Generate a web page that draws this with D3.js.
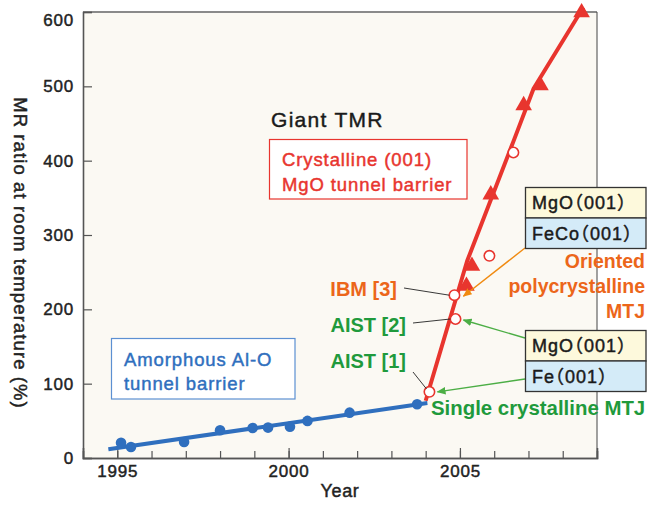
<!DOCTYPE html>
<html>
<head>
<meta charset="utf-8">
<script src="https://cdn.jsdelivr.net/npm/d3@7/dist/d3.min.js"></script>
<style>
  html, body { margin: 0; padding: 0; background: #fff; }
  svg { display: block; font-family: "Liberation Sans", Arial, "Noto Sans CJK JP", sans-serif; }
  .med { stroke-width: 0.45px; paint-order: stroke; }
  .layer { font-feature-settings: "halt" 1; }
</style>
</head>
<body>
<svg id="chart" width="656" height="505"></svg>
<script>
// ---------- data ----------
const yTickValues = [0, 100, 200, 300, 400, 500, 600];
const xMajorTicks = [1995, 2000, 2005];
const xMinorTicks = [1995, 1996, 1997, 1998, 1999, 2000, 2001, 2002, 2003, 2004, 2005, 2006, 2007, 2008];

// Amorphous Al-O barrier (blue filled circles)
const aloYears  = [1995.11, 1995.4, 1996.95, 1998.0, 1998.95, 1999.4, 2000.04, 2000.55, 2001.78, 2003.75];
const aloValues = [20.6, 14.8, 21.6, 37.3, 40.4, 40.9, 42.2, 49.9, 61.0, 72.3];
// Al-O trend line
const aloTrendYears  = [1994.74, 2004.05];
const aloTrendValues = [11.7, 74];

// MgO trend line (red)
const mgoTrendYears  = [2004.0, 2005.21, 2006.57, 2007.15, 2008.6];
const mgoTrendValues = [77, 265, 427, 497, 606];
// MgO single crystalline / oriented (open circles)
const openYears  = [2004.11, 2004.87, 2004.84, 2005.86, 2006.56];
const openValues = [89, 187, 219, 272, 411];
// MgO (filled triangles)
const triYears  = [2005.19, 2005.35, 2005.9, 2006.86, 2007.35, 2008.55];
const triValues = [234, 261, 357, 477, 504, 602];

// layer stacks
const stackPoly   = ["MgO（001）", "FeCo（001）"];
const stackSingle = ["MgO（001）", "Fe（001）"];

// ---------- layout ----------
const W = 656, H = 505;
const M = {left: 83, top: 12, right: 59, bottom: 47};
const pw = W - M.left - M.right, ph = H - M.top - M.bottom;

const RED = "#e8352e", BLUE = "#2f6fbe", GREEN = "#1f9a3c", GREEN_L = "#4cae45",
      ORANGE = "#ec661a", ORANGE_L = "#f08a10", AX = "#555", INK = "#222";

const svg = d3.select("#chart");
const defs = svg.append("defs");
function marker(id, color) {
  defs.append("marker").attr("id", id)
    .attr("viewBox", "0 0 10 10").attr("refX", 9).attr("refY", 5)
    .attr("markerWidth", 9).attr("markerHeight", 9).attr("markerUnits", "userSpaceOnUse")
    .attr("orient", "auto")
    .append("path").attr("d", "M0,0.8L10,5L0,9.2Z").attr("fill", color);
}
marker("arrG", GREEN_L);
marker("arrO", ORANGE_L);

const x = d3.scaleLinear().domain([1994, 2009]).range([M.left, M.left + pw]);
const y = d3.scaleLinear().domain([0, 600]).range([M.top + ph, M.top]);

// plot background
svg.append("rect").attr("x", M.left).attr("y", M.top).attr("width", pw).attr("height", ph)
  .attr("fill", "#fbf9f3");

// frame top & right
svg.append("line").attr("x1", M.left).attr("x2", M.left + pw).attr("y1", M.top).attr("y2", M.top)
  .attr("stroke", "#8a8a8a").attr("stroke-width", 2);
svg.append("line").attr("x1", M.left + pw).attr("x2", M.left + pw).attr("y1", M.top).attr("y2", M.top + ph)
  .attr("stroke", "#444").attr("stroke-width", 1);

// axes
const tickFont = g => g.selectAll("text")
  .attr("font-size", 17).attr("fill", INK).attr("stroke", INK).attr("class", "med")
  .attr("letter-spacing", "0.8px")
  .attr("font-family", "'Liberation Sans', Arial, sans-serif");

const xMinor = svg.append("g").attr("transform", `translate(0,${M.top + ph})`)
  .call(d3.axisBottom(x).tickValues(xMinorTicks).tickSize(-7).tickFormat(""));
const xMajor = svg.append("g").attr("transform", `translate(0,${M.top + ph})`)
  .call(d3.axisBottom(x).tickValues(xMajorTicks).tickSize(-10).tickPadding(7).tickFormat(d3.format("d")));
[xMinor, xMajor].forEach(g => {
  g.select(".domain").attr("stroke", AX).attr("stroke-width", 1.6);
  g.selectAll(".tick line").attr("stroke", AX).attr("stroke-width", 1.2);
});
xMajor.call(tickFont);

const yAx = svg.append("g").attr("transform", `translate(${M.left},0)`)
  .call(d3.axisLeft(y).tickValues(yTickValues).tickSize(-9).tickPadding(9));
yAx.select(".domain").attr("stroke", AX).attr("stroke-width", 1.6);
yAx.selectAll(".tick line").attr("stroke", AX).attr("stroke-width", 1.2);
yAx.call(tickFont);
yAx.selectAll(".tick text").filter(d => d === 600).attr("dy", "0.8em");

// axis titles
svg.append("text").attr("x", M.left + pw / 2).attr("y", 497).attr("text-anchor", "middle")
  .attr("class", "med").attr("stroke", INK)
  .attr("font-size", 18).attr("letter-spacing", "0.6px").attr("fill", INK).text("Year");
svg.append("text").attr("transform", `translate(14,${253}) rotate(90)`).attr("text-anchor", "middle")
  .attr("class", "med").attr("stroke", INK)
  .attr("font-size", 18.5).attr("letter-spacing", "1.1px").attr("fill", INK)
  .text("MR ratio at room temperature (%)");

// trend lines
const line = d3.line().x(d => x(d[0])).y(d => y(d[1]));
svg.append("path").datum(aloTrendYears.map((d, i) => [d, aloTrendValues[i]]))
  .attr("d", line).attr("fill", "none").attr("stroke", BLUE).attr("stroke-width", 4);
svg.append("path").datum(mgoTrendYears.map((d, i) => [d, mgoTrendValues[i]]))
  .attr("d", line).attr("fill", "none").attr("stroke", RED).attr("stroke-width", 4)
  .attr("stroke-linejoin", "round");

// points
svg.append("g").selectAll("circle").data(aloYears.map((d, i) => [d, aloValues[i]])).join("circle")
  .attr("cx", d => x(d[0])).attr("cy", d => y(d[1])).attr("r", 5.3).attr("fill", BLUE);
svg.append("g").selectAll("path").data(triYears.map((d, i) => [d, triValues[i]])).join("path")
  .attr("transform", d => `translate(${x(d[0])},${y(d[1]) + 2})`)
  .attr("d", d3.symbol(d3.symbolTriangle, 120)).attr("fill", RED);
svg.append("g").selectAll("circle").data(openYears.map((d, i) => [d, openValues[i]])).join("circle")
  .attr("cx", d => x(d[0])).attr("cy", d => y(d[1])).attr("r", 5.2)
  .attr("fill", "#fff").attr("stroke", RED).attr("stroke-width", 1.6);

// ---------- annotations ----------
const P = i => [x(openYears[i]), y(openValues[i])];

svg.append("text").attr("x", 271).attr("y", 127).attr("font-size", 21).attr("letter-spacing", "1.3px")
  .attr("class", "med").attr("stroke", "#1a1a1a")
  .attr("fill", "#1a1a1a").text("Giant TMR");

svg.append("rect").attr("x", 269.5).attr("y", 139.5).attr("width", 197.5).attr("height", 59.5)
  .attr("fill", "#fff").attr("stroke", RED).attr("stroke-width", 1.2);
const redT = svg.append("text").attr("font-size", 18.5).attr("letter-spacing", "0.9px").attr("fill", RED)
  .attr("class", "med").attr("stroke", RED);
redT.append("tspan").attr("x", 282).attr("y", 165.5).text("Crystalline (001)");
redT.append("tspan").attr("x", 282).attr("y", 190.5).text("MgO tunnel barrier");

svg.append("rect").attr("x", 111.5).attr("y", 338.5).attr("width", 183.5).attr("height", 60.5)
  .attr("fill", "#fff").attr("stroke", "#5c90d2").attr("stroke-width", 1.2);
const bluT = svg.append("text").attr("font-size", 18.5).attr("letter-spacing", "0.9px").attr("fill", BLUE)
  .attr("class", "med").attr("stroke", BLUE);
bluT.append("tspan").attr("x", 124).attr("y", 365.5).text("Amorphous Al-O");
bluT.append("tspan").attr("x", 124).attr("y", 390).text("tunnel barrier");

// leader lines
const lead = (x1, y1, x2, y2) => svg.append("line").attr("x1", x1).attr("y1", y1).attr("x2", x2).attr("y2", y2)
  .attr("stroke", "#222").attr("stroke-width", 0.9);
lead(404, 288, P(2)[0] - 5, P(2)[1]);
lead(413, 323, P(1)[0] - 5, P(1)[1]);
lead(413, 372, P(0)[0] - 3, P(0)[1] - 3);

const bold = (t, xx, yy, color, anchor, size) => svg.append("text").attr("x", xx).attr("y", yy)
  .attr("text-anchor", anchor).attr("font-size", size).attr("font-weight", "bold").attr("fill", color).text(t);
bold("IBM [3]", 397, 296, ORANGE, "end", 20);
bold("AIST [2]", 406, 332, GREEN, "end", 20);
bold("AIST [1]", 406, 367.5, GREEN, "end", 20);
bold("Single crystalline MTJ", 431, 415, GREEN, "start", 20.4);
bold("Oriented", 645, 268, ORANGE, "end", 19.5);
bold("polycrystalline", 645, 293, ORANGE, "end", 19.5);
bold("MTJ", 645, 318, ORANGE, "end", 19.5);

// arrows
const arrow = (x1, y1, x2, y2, color, m) => svg.append("line").attr("x1", x1).attr("y1", y1).attr("x2", x2).attr("y2", y2)
  .attr("stroke", color).attr("stroke-width", 1.4).attr("marker-end", `url(#${m})`);
arrow(525, 248, P(2)[0] + 9, P(2)[1] + 1, ORANGE_L, "arrO");
arrow(525, 338, P(1)[0] + 8, P(1)[1] + 1, GREEN_L, "arrG");
arrow(525, 379, P(0)[0] + 8, P(0)[1], GREEN_L, "arrG");

// layer boxes
function stack(top, labels) {
  const fills = ["#fdf9dc", "#d4ebf8"];
  const hh = 30.5;
  labels.forEach((lab, i) => {
    svg.append("rect").attr("x", 525.5).attr("y", top + i * hh).attr("width", 120.5).attr("height", hh)
      .attr("fill", fills[i]).attr("stroke", "#333").attr("stroke-width", 1.3);
    svg.append("text").attr("x", 532).attr("y", top + i * hh + 21.5).attr("font-size", 18)
      .attr("letter-spacing", "1px").attr("class", "med layer").attr("stroke", "#1a1a1a")
      .attr("fill", "#1a1a1a").text(lab);
  });
}
stack(187.5, stackPoly);
stack(330.5, stackSingle);
</script>
</body>
</html>
